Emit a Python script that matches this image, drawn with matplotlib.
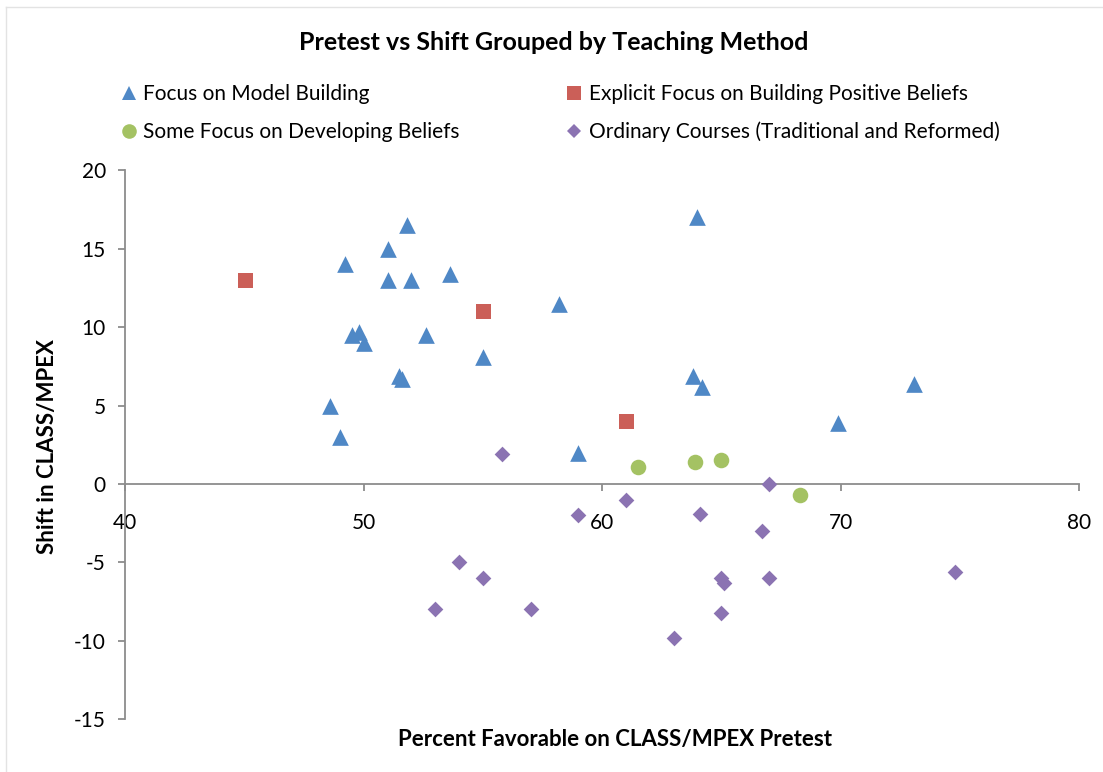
"""Pretest vs shift scatter, grouped by teaching method."""

import matplotlib
matplotlib.use("Agg")
import matplotlib.pyplot as plt
from matplotlib.lines import Line2D

plt.rcParams["font.family"] = ["Lato", "DejaVu Sans"]
plt.rcParams["axes.unicode_minus"] = False

# Focus on Model Building
model_x = [51.8, 51.0, 49.2, 51.0, 52.0, 53.6, 49.8, 49.5, 50.0, 52.6, 55.0,
           51.5, 51.6, 48.6, 49.0, 64.0, 58.2, 63.8, 64.2, 73.1, 69.9, 59.0]
model_y = [16.5, 15.0, 14.0, 13.0, 13.0, 13.4, 9.7, 9.5, 9.0, 9.5, 8.1,
           6.9, 6.7, 5.0, 3.0, 17.0, 11.5, 6.9, 6.2, 6.4, 3.9, 2.0]

# Explicit Focus on Building Positive Beliefs
explicit_x = [45.0, 55.0, 61.0]
explicit_y = [13.0, 11.0, 4.0]

# Some Focus on Developing Beliefs
some_x = [61.5, 63.9, 65.0, 68.3]
some_y = [1.1, 1.4, 1.5, -0.7]

# Ordinary Courses (Traditional and Reformed)
ordinary_x = [55.8, 61.0, 59.0, 64.1, 67.0, 66.7, 54.0, 55.0, 53.0, 57.0,
              65.0, 65.1, 67.0, 65.0, 63.0, 74.8]
ordinary_y = [1.9, -1.0, -2.0, -1.9, 0.0, -3.0, -5.0, -6.0, -8.0, -8.0,
              -6.0, -6.3, -6.0, -8.2, -9.8, -5.6]

x_ticks = [40, 50, 60, 70, 80]
y_ticks = [-15, -10, -5, 0, 5, 10, 15, 20]

BLUE = "#4F88C6"
RED = "#CB5F58"
GREEN = "#A4C263"
PURPLE = "#8B73B2"
AXIS_GRAY = "#8C8C8C"

fig = plt.figure(figsize=(11.03, 7.72), dpi=100, facecolor="white")
ax = fig.add_axes([0.1136, 0.0683, 0.8646, 0.7111])

ax.scatter(model_x, model_y, marker="^", s=12 ** 2, color=BLUE, linewidths=0, zorder=3)
ax.scatter(explicit_x, explicit_y, marker="s", s=10.8 ** 2, color=RED, linewidths=0, zorder=3)
ax.scatter(some_x, some_y, marker="o", s=11.2 ** 2, color=GREEN, linewidths=0, zorder=3)
ax.scatter(ordinary_x, ordinary_y, marker="D", s=8 ** 2, color=PURPLE, linewidths=0, zorder=3)

ax.set_xlim(40, 80)
ax.set_ylim(-15, 20)
ax.set_xticks(x_ticks)
ax.set_yticks(y_ticks)

ax.spines["top"].set_visible(False)
ax.spines["right"].set_visible(False)
ax.spines["bottom"].set_position(("data", 0))
for side in ("left", "bottom"):
    ax.spines[side].set_color(AXIS_GRAY)
    ax.spines[side].set_linewidth(1.3)

ax.tick_params(axis="both", direction="out", length=5, width=1.3, color=AXIS_GRAY,
               labelsize=15, labelcolor="black")
ax.tick_params(axis="x", pad=16)
ax.tick_params(axis="y", pad=9)

fig.text(0.502, 0.945, "Pretest vs Shift Grouped by Teaching Method",
         ha="center", va="center", fontsize=18, fontweight="bold")
fig.text(0.558, 0.042, "Percent Favorable on CLASS/MPEX Pretest",
         ha="center", va="center", fontsize=16, fontweight="bold")
fig.text(0.043, 0.421, "Shift in CLASS/MPEX", rotation=90,
         ha="center", va="center", fontsize=16, fontweight="bold")

handles = [
    Line2D([], [], marker="^", linestyle="none", markersize=10.5, color=BLUE, markeredgewidth=0),
    Line2D([], [], marker="o", linestyle="none", markersize=10.5, color=GREEN, markeredgewidth=0),
    Line2D([], [], marker="s", linestyle="none", markersize=10, color=RED, markeredgewidth=0),
    Line2D([], [], marker="D", linestyle="none", markersize=7.5, color=PURPLE, markeredgewidth=0),
]
labels = [
    "Focus on Model Building",
    "Some Focus on Developing Beliefs",
    "Explicit Focus on Building Positive Beliefs",
    "Ordinary Courses (Traditional and Reformed)",
]
fig.legend(handles, labels, ncol=2, frameon=False, fontsize=15,
           loc="upper left", bbox_to_anchor=(0.109, 0.891),
           handlelength=0.8, handletextpad=0.3, columnspacing=5.1,
           labelspacing=0.85, borderaxespad=0, borderpad=0)

# faint chart-area border (top and left only visible in the crop)
fig.add_artist(Line2D([6 / 1103, 1], [1 - 7 / 772, 1 - 7 / 772],
                      transform=fig.transFigure, color="#E3E3E3", linewidth=1))
fig.add_artist(Line2D([6 / 1103, 6 / 1103], [0, 1 - 7 / 772],
                      transform=fig.transFigure, color="#E3E3E3", linewidth=1))

fig.savefig("out.png", dpi=100, facecolor="white")
plt.close(fig)
